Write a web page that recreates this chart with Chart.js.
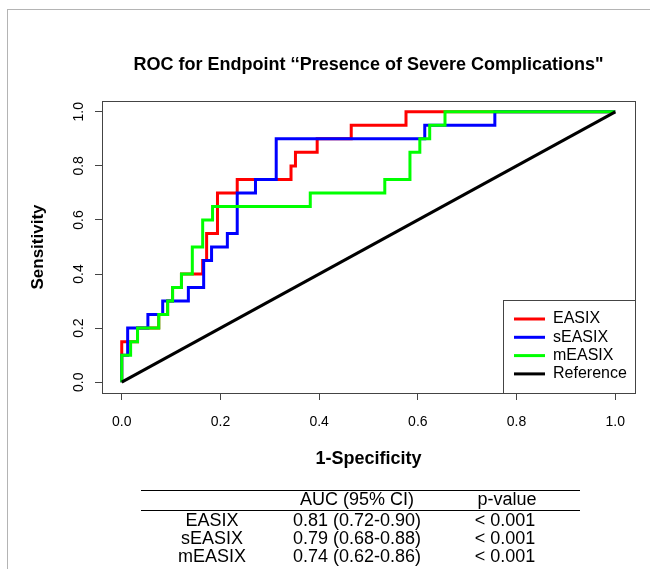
<!DOCTYPE html>
<html>
<head>
<meta charset="utf-8">
<script src="https://cdn.jsdelivr.net/npm/chart.js@4"></script>
<style>
  html, body { margin: 0; padding: 0; background: #fff; }
  #wrap { position: relative; width: 650px; height: 569px; overflow: hidden; }
  #frame { position: absolute; left: 7px; top: 9px; right: 0; bottom: 0; border-left: 1px solid #b4b4b4; border-top: 1px solid #b4b4b4; }
  canvas { position: absolute; left: 0; top: 0; }
  .rule { position: absolute; left: 141px; width: 439px; height: 0; border-top: 1px solid #000; }
  .cell { position: absolute; width: 160px; text-align: center; font: 18px "Liberation Sans", Arial, sans-serif; line-height: 18px; color: #000; white-space: nowrap; }
</style>
</head>
<body>
<div id="wrap">
  <div id="frame"></div>
  <canvas id="roc" width="650" height="569"></canvas>
  <div id="table"></div>
</div>
<script>
// ROC curves (1-specificity, sensitivity)
const easixFpr = [0, 0, 0.032, 0.032, 0.075, 0.075, 0.093, 0.093, 0.103, 0.103, 0.121, 0.121, 0.164, 0.164, 0.172, 0.172, 0.194, 0.194, 0.234, 0.234, 0.343, 0.343, 0.352, 0.352, 0.396, 0.396, 0.465, 0.465, 0.576, 0.576, 1];
const easixTpr = [0, 0.15, 0.15, 0.20, 0.20, 0.25, 0.25, 0.30, 0.30, 0.35, 0.35, 0.40, 0.40, 0.45, 0.45, 0.55, 0.55, 0.70, 0.70, 0.75, 0.75, 0.80, 0.80, 0.85, 0.85, 0.90, 0.90, 0.95, 0.95, 1, 1];

const seasixFpr = [0, 0, 0.012, 0.012, 0.053, 0.053, 0.083, 0.083, 0.135, 0.135, 0.166, 0.166, 0.182, 0.182, 0.214, 0.214, 0.234, 0.234, 0.271, 0.271, 0.313, 0.313, 0.614, 0.614, 0.756, 0.756, 1];
const seasixTpr = [0, 0.10, 0.10, 0.20, 0.20, 0.25, 0.25, 0.30, 0.30, 0.35, 0.35, 0.45, 0.45, 0.50, 0.50, 0.55, 0.55, 0.70, 0.70, 0.75, 0.75, 0.90, 0.90, 0.95, 0.95, 1, 1];

const measixFpr = [0, 0, 0.018, 0.018, 0.032, 0.032, 0.075, 0.075, 0.093, 0.093, 0.103, 0.103, 0.121, 0.121, 0.143, 0.143, 0.164, 0.164, 0.184, 0.184, 0.382, 0.382, 0.533, 0.533, 0.584, 0.584, 0.604, 0.604, 0.624, 0.624, 0.655, 0.655, 1];
const measixTpr = [0, 0.10, 0.10, 0.15, 0.15, 0.20, 0.20, 0.25, 0.25, 0.30, 0.30, 0.35, 0.35, 0.40, 0.40, 0.50, 0.50, 0.60, 0.60, 0.65, 0.65, 0.70, 0.70, 0.75, 0.75, 0.85, 0.85, 0.90, 0.90, 0.95, 0.95, 1, 1];

const refFpr = [0, 1];
const refTpr = [0, 1];

const axisTicks = [0, 0.2, 0.4, 0.6, 0.8, 1.0];

// table under the plot
const tableNames = ["EASIX", "sEASIX", "mEASIX"];
const tableAuc = ["0.81 (0.72-0.90)", "0.79 (0.68-0.88)", "0.74 (0.62-0.86)"];
const tableP = ["< 0.001", "< 0.001", "< 0.001"];

const FONT = '"Liberation Sans", Arial, sans-serif';

function toPoints(xs, ys) {
    return xs.map((x, i) => ({ x: x, y: ys[i] }));
}

function setTicks(scale) {
    scale.ticks = axisTicks.map(v => ({ value: v }));
}

// box around the plot region, like R's bty="o"
const plotBox = {
    id: "plotBox",
    afterDraw(chart) {
        const { ctx, chartArea: a } = chart;
        ctx.save();
        ctx.strokeStyle = "#444";
        ctx.lineWidth = 1;
        ctx.strokeRect(Math.round(a.left) + 0.5, Math.round(a.top) + 0.5,
            Math.round(a.right - a.left), Math.round(a.bottom - a.top));
        ctx.restore();
    }
};

// legend in the bottom right corner of the plot
const cornerLegend = {
    id: "cornerLegend",
    afterDraw(chart) {
        const { ctx, chartArea: a } = chart;
        const w = 132, h = 93;
        const x0 = Math.round(a.right) - w, y0 = Math.round(a.bottom) - h;
        ctx.save();
        ctx.fillStyle = "#fff";
        ctx.fillRect(x0, y0, w, h);
        ctx.strokeStyle = "#444";
        ctx.lineWidth = 1;
        ctx.strokeRect(x0 + 0.5, y0 + 0.5, w, h);
        ctx.font = "16px " + FONT;
        ctx.textBaseline = "middle";
        chart.data.datasets.forEach((ds, i) => {
            const y = y0 + 19 + i * 18.3;
            ctx.strokeStyle = ds.borderColor;
            ctx.lineWidth = 3;
            ctx.beginPath();
            ctx.moveTo(x0 + 11, y);
            ctx.lineTo(x0 + 42, y);
            ctx.stroke();
            ctx.fillStyle = "#000";
            ctx.fillText(ds.label, x0 + 50, y);
        });
        ctx.restore();
    }
};

function lineSet(label, xs, ys, color, order) {
    return {
        label: label,
        data: toPoints(xs, ys),
        borderColor: color,
        backgroundColor: color,
        borderWidth: 3,
        pointRadius: 0,
        tension: 0,
        fill: false,
        order: order   // lower order is drawn on top
    };
}

new Chart(document.getElementById("roc"), {
    type: "line",
    data: {
        datasets: [
            lineSet("EASIX", easixFpr, easixTpr, "#ff0000", 3),
            lineSet("sEASIX", seasixFpr, seasixTpr, "#0000ff", 2),
            lineSet("mEASIX", measixFpr, measixTpr, "#00ff00", 1),
            lineSet("Reference", refFpr, refTpr, "#000000", 0)
        ]
    },
    options: {
        responsive: false,
        animation: false,
        layout: { padding: { top: 0, right: 15, bottom: 96, left: 0 } },
        plugins: {
            legend: { display: false },
            tooltip: { enabled: false },
            title: {
                display: true,
                fullSize: false,
                text: "ROC for Endpoint \u2018\u2018Presence of Severe Complications\"",
                color: "#000",
                font: { family: FONT, size: 18, weight: "bold" },
                padding: { top: 54, bottom: 25.4 }
            }
        },
        scales: {
            x: {
                type: "linear",
                min: -0.04,
                max: 1.04,
                afterBuildTicks: setTicks,
                afterFit(scale) { scale.height = 80; },
                grid: { drawOnChartArea: false, drawTicks: true, tickLength: 7, color: "#444" },
                border: { display: true, color: "#444" },
                ticks: {
                    padding: 14,
                    color: "#000",
                    font: { family: FONT, size: 14 },
                    maxRotation: 0,
                    callback: v => v.toFixed(1)
                },
                title: {
                    display: true,
                    text: "1-Specificity",
                    color: "#000",
                    font: { family: FONT, size: 18, weight: "bold" },
                    padding: { top: 0, bottom: 3 }
                }
            },
            y: {
                type: "linear",
                min: -0.04,
                max: 1.04,
                afterBuildTicks: setTicks,
                afterFit(scale) { scale.width = 102; },
                grid: { drawOnChartArea: false, drawTicks: true, tickLength: 7, color: "#444" },
                border: { display: true, color: "#444" },
                ticks: {
                    padding: 6,
                    crossAlign: "center",
                    minRotation: 90,
                    maxRotation: 90,
                    color: "#000",
                    font: { family: FONT, size: 14 },
                    callback: v => v.toFixed(1)
                },
                title: {
                    display: true,
                    text: "Sensitivity",
                    color: "#000",
                    font: { family: FONT, size: 17, weight: "bold" },
                    padding: { top: 28, bottom: 0 }
                }
            }
        }
    },
    plugins: [plotBox, cornerLegend]
});

// AUC table
const table = document.getElementById("table");

function addCell(text, cx, cy) {
    const d = document.createElement("div");
    d.className = "cell";
    d.textContent = text;
    d.style.left = (cx - 80) + "px";
    d.style.top = (cy - 9) + "px";
    table.appendChild(d);
}

function addRule(y) {
    const r = document.createElement("div");
    r.className = "rule";
    r.style.top = y + "px";
    table.appendChild(r);
}

addRule(490);
addRule(510);
addCell("AUC (95% CI)", 357, 499);
addCell("p-value", 507, 499);
tableNames.forEach((name, i) => {
    const cy = 520 + i * 18;
    addCell(name, 212, cy);
    addCell(tableAuc[i], 357, cy);
    addCell(tableP[i], 505, cy);
});
</script>
</body>
</html>
